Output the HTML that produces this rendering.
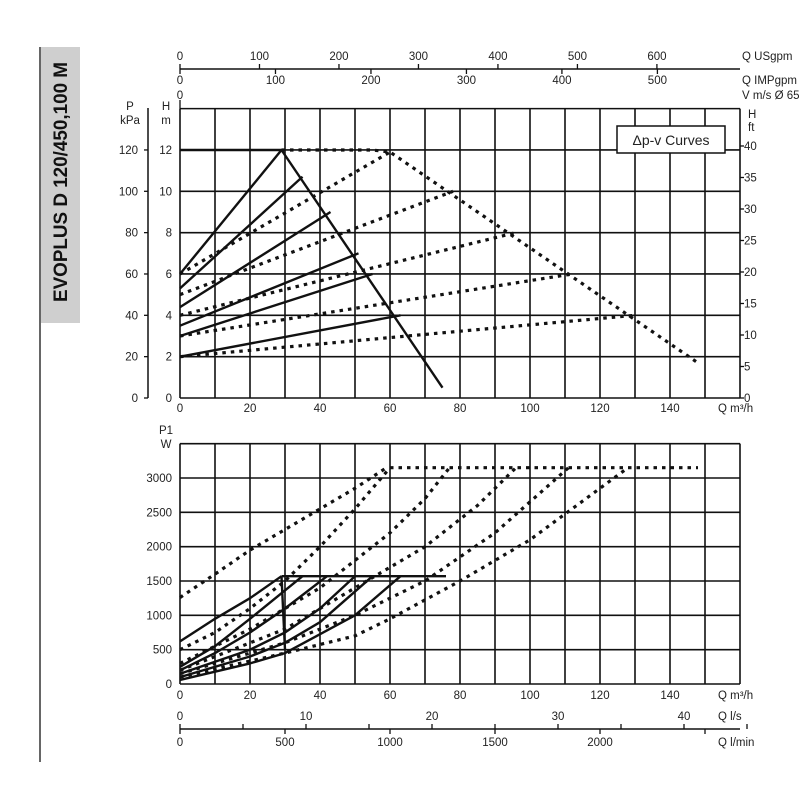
<!DOCTYPE html>
<html><head><meta charset="utf-8"><style>
html,body{margin:0;padding:0;background:#fff}
svg{display:block}
text{font-family:"Liberation Sans",sans-serif;font-size:11.5px;fill:#222}
</style></head><body>
<svg id="s" width="800" height="800" xmlns="http://www.w3.org/2000/svg">
<rect x="41" y="47" width="39" height="276" fill="#cfcfcf"/>
<line x1="40" y1="47" x2="40" y2="762" stroke="#333" stroke-width="1.5"/>
<text transform="translate(67,182) rotate(-90)" text-anchor="middle" textLength="240" lengthAdjust="spacingAndGlyphs" style="font-size:19px;font-weight:bold;fill:#111">EVOPLUS D 120/450,100 M</text>
<g id="g"></g>
</svg>
<script>
(function(){
const g=document.getElementById('g');let h='';
const X=q=>180+q*3.5, YT=m=>398-m*20.67, YB=p=>684-p*0.06867;
function L(x1,y1,x2,y2,w,c){h+=`<line x1="${x1}" y1="${y1}" x2="${x2}" y2="${y2}" stroke="${c||'#111'}" stroke-width="${w||1.3}"/>`}
function T(x,y,s,a,st){h+=`<text x="${x}" y="${y}" text-anchor="${a||'middle'}" ${st?`style="${st}"`:''}>${s}</text>`}
function P(pts,fy,dash){h+=`<polyline fill="none" stroke="#111" stroke-width="${dash?3.2:2.4}" ${dash?'stroke-dasharray="3.5 5"':''} stroke-linejoin="round" points="${pts.map(p=>X(p[0]).toFixed(1)+','+fy(p[1]).toFixed(1)).join(' ')}"/>`}
L(180,69,740,69,1.5);
for(let u=0;u<=600;u+=100){let x=X(u*0.2271);L(x,64,x,69);T(x,60,u);}
T(742,60,'Q USgpm','start');
for(let u=0;u<=500;u+=100){let x=X(u*0.2728);L(x,69,x,74);T(x,84,u);}
T(742,84,'Q IMPgpm','start');T(180,99,'0');T(742,99,'V m/s Ø 65','start');
const topY=YT(14);
for(let i=0;i<=16;i++)L(X(i*10),topY,X(i*10),398,1.6);
for(let m=0;m<=14;m+=2)L(180,YT(m),740,YT(m),1.6);
L(180,100,180,topY,1.3);
for(let m=0;m<=12;m+=2){T(172,YT(m)+4,m,'end');T(138,YT(m)+4,m*10,'end');L(144,YT(m),148,YT(m));}
L(148,108,148,398,1.5);
T(130,110,'P');T(130,124,'kPa');T(166,110,'H');T(166,124,'m');
T(748,118,'H','start');T(748,131,'ft','start');
for(let f=0;f<=40;f+=5){let y=YT(f*0.3048);L(740,y,744,y);T(744,y+4,f,'start');}
for(let q=0;q<=140;q+=20)T(X(q),412,q);
T(718,412,'Q m³/h','start');
h+=`<rect x="617" y="126" width="108" height="27" fill="#fff" stroke="#111" stroke-width="1.5"/>`;
T(671,145,'Δp-v Curves','middle','font-size:14px');
P([[0,12],[29,12],[75,0.5]],YT);
[[6,29,12],[5.3,35,10.7],[4.4,43,9],[3.5,51,7],[3,55,6],[2,63,4]].forEach(a=>P([[0,a[0]],[a[1],a[2]]],YT));
P([[29,12],[55,12],[60,11.9],[148,1.7]],YT,1);
[[6,60,11.9],[5,78,10],[4,96,8],[3,112,6],[2,130,4]].forEach(a=>P([[0,a[0]],[a[1],a[2]]],YT,1));
const tb=YB(3500);
for(let i=0;i<=16;i++)L(X(i*10),tb,X(i*10),684,1.6);
for(let p=0;p<=3500;p+=500)L(180,YB(p),740,YB(p),1.6);
for(let p=0;p<=3000;p+=500)T(172,YB(p)+4,p,'end');
T(166,434,'P1');T(166,448,'W');
for(let q=0;q<=140;q+=20)T(X(q),699,q);
T(718,699,'Q m³/h','start');
L(180,729,740,729,1.5);
for(let v=0;v<=45;v+=5){let x=X(v*3.6);L(x,724,x,729);if(v%10==0)T(x,720,v);}
T(718,720,'Q l/s','start');
for(let v=0;v<=2500;v+=500){let x=X(v*0.06);L(x,729,x,734);if(v<2500)T(x,746,v);}
T(718,746,'Q l/min','start');
P([[29,1570],[76,1570]],YB);
P([[0,620],[10,950],[20,1250],[29,1570]],YB);
P([[0,250],[10,550],[20,950],[35,1570]],YB);
P([[0,200],[10,450],[20,750],[30,1100],[42,1570]],YB);
P([[0,150],[20,500],[30,750],[40,1100],[50,1570]],YB);
P([[0,100],[20,400],[30,600],[40,900],[55,1570]],YB);
P([[0,60],[20,300],[30,450],[50,1000],[63,1570]],YB);
P([[30,500],[29,1570]],YB);
P([[60,3150],[148,3150]],YB,1);
P([[0,1260],[10,1600],[20,1950],[30,2250],[40,2550],[50,2850],[59,3150]],YB,1);
P([[0,500],[10,750],[20,1100],[30,1500],[40,2000],[50,2550],[60,3150]],YB,1);
P([[0,300],[20,800],[40,1400],[60,2200],[70,2700],[77,3150]],YB,1);
P([[0,200],[30,800],[50,1400],[70,2000],[85,2600],[96,3150]],YB,1);
P([[0,150],[30,600],[50,1000],[70,1500],[90,2200],[111,3150]],YB,1);
P([[0,100],[30,450],[50,700],[60,950],[80,1500],[100,2100],[128,3150]],YB,1);
g.innerHTML=h;
})();
</script>
</body></html>
